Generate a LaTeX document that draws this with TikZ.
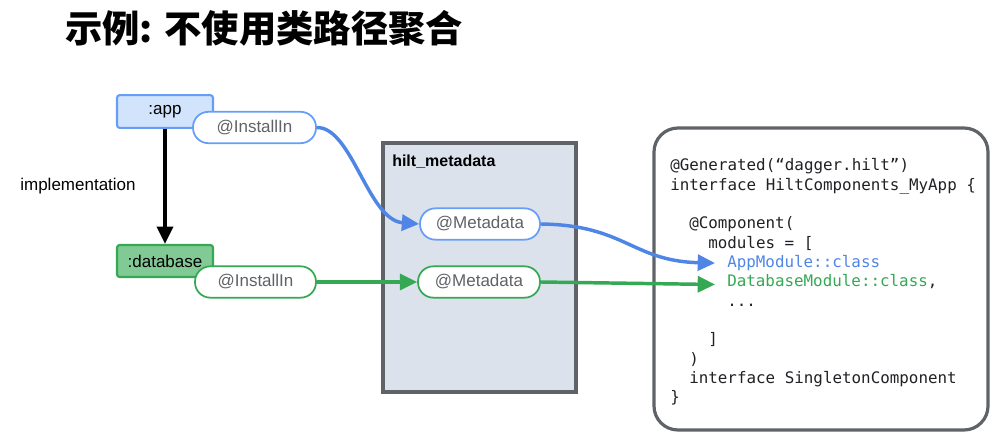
\documentclass[tikz,border=0pt]{standalone}
\usepackage{fontspec}
\setmainfont{Liberation Sans}
\newfontfamily\cjkfont{Noto Sans CJK SC}
\newfontfamily\codefont{DejaVu Sans Mono}
\usetikzlibrary{arrows.meta}

\definecolor{appfill}{HTML}{D2E3FC}
\definecolor{appdraw}{HTML}{669DF6}
\definecolor{appline}{HTML}{4F86E6}
\definecolor{dbfill}{HTML}{81C995}
\definecolor{dbdraw}{HTML}{34A853}
\definecolor{dbline}{HTML}{34A853}
\definecolor{hiltfill}{HTML}{DCE2EC}
\definecolor{boxgray}{HTML}{5F6368}
\definecolor{tagtext}{HTML}{5F6368}
\definecolor{codetext}{HTML}{202124}

\begin{document}
\begin{tikzpicture}[x=0.75pt,y=0.75pt,yscale=-1,xscale=1,
	module/.style={draw,line width=1.6pt,rounded corners=2pt,minimum width=72pt,minimum height=24.5pt,inner sep=0pt,font=\fontsize{12.75}{15}\selectfont},
	tag/.style={draw,fill=white,line width=1.3pt,rounded corners=11.5pt,minimum height=23.5pt,inner sep=0pt,text=tagtext,font=\fontsize{12.75}{15}\selectfont},
	flow/.style={line width=2.6pt,-{Triangle[length=13pt,width=12pt]}},
	codeline/.style={anchor=base west,inner sep=0pt,text=codetext,font=\codefont\fontsize{11.9}{14}\selectfont}]
		\useasboundingbox (0,0) rectangle (998,442);

		% Title
		\node [anchor=west,inner sep=0pt,font=\cjkfont\bfseries\fontsize{28}{32}\selectfont] (title) at (65,28) {示例: 不使用类路径聚合};

		%Shape: Rectangle :app
		\node [module,fill=appfill,draw=appdraw] (app) at (165,111.5) {:app};
		%Shape: Pill @InstallIn (app)
		\node [tag,draw=appdraw,minimum width=92.25pt] (appInstall) at (254.5,127.5) {@InstallIn};

		%Shape: Rectangle :database
		\node [module,fill=dbfill,draw=dbdraw,minimum height=24pt] (db) at (165,261) {:database};
		%Shape: Pill @InstallIn (database)
		\node [tag,draw=dbdraw,minimum width=90.75pt] (dbInstall) at (255.5,282) {@InstallIn};

		% Text Node
		\node [inner sep=0pt,font=\fontsize{12.75}{15}\selectfont] (implLabel) at (78,186) {implementation};
		\draw [line width=2.6pt,-{Triangle[length=13pt,width=12pt]}] (app.south) -- (db.north);

		%Shape: Rectangle hilt_metadata
		\node [draw=boxgray,fill=hiltfill,line width=2.6pt,minimum width=144.75pt,minimum height=186.75pt,inner sep=0pt] (hilt) at (479.5,267.5) {};
		\node [anchor=west,inner sep=0pt,font=\bfseries\fontsize{12}{14}\selectfont] (hiltLabel) at (392,162) {hilt\_metadata};
		\node [tag,draw=appdraw,minimum width=90pt] (appMeta) at (480,224) {@Metadata};
		\node [tag,draw=dbdraw,minimum width=91.5pt] (dbMeta) at (479,282) {@Metadata};

		%Shape: Rounded Rectangle generated code
		\node [draw=boxgray,line width=2.4pt,rounded corners=18pt,minimum width=250.5pt,minimum height=226.5pt,inner sep=0pt] (codeBox) at (821,279) {};

		% Text Node
		\node [codeline] (code1) at (670,171) {@Generated(“dagger.hilt”)};
		\node [codeline] (code2) at (670,190.3) {interface HiltComponents\_MyApp \{};
		\node [codeline] (code3) at (689,228.9) {@Component(};
		\node [codeline] (code4) at (708,248.2) {modules = [};
		\node [codeline,text=appline] (codeApp) at (727,267.5) {AppModule::class};
		\node [codeline] (codeDb) at (727,286.8) {\textcolor{dbline}{DatabaseModule::class},};
		\node [codeline] (code7) at (727,306.1) {...};
		\node [codeline] (code8) at (708,344.7) {]};
		\node [codeline] (code9) at (689,364) {)};
		\node [codeline] (code10) at (689,383.3) {interface SingletonComponent};
		\node [codeline] (code11) at (670,402.6) {\}};

		% Connectors
		\draw [flow,appline] (appInstall.east) .. controls (352,127) and (368,220) .. (appMeta.west);
		\draw [flow,appline] (appMeta.east) .. controls (625,225) and (632,261) .. ([xshift=-9pt]codeApp.west);
		\draw [flow,dbline] (dbInstall.east) -- (dbMeta.west);
		\draw [flow,dbline] (dbMeta.east) -- ([xshift=-9pt,yshift=2pt]codeDb.west);

\end{tikzpicture}
\end{document}
